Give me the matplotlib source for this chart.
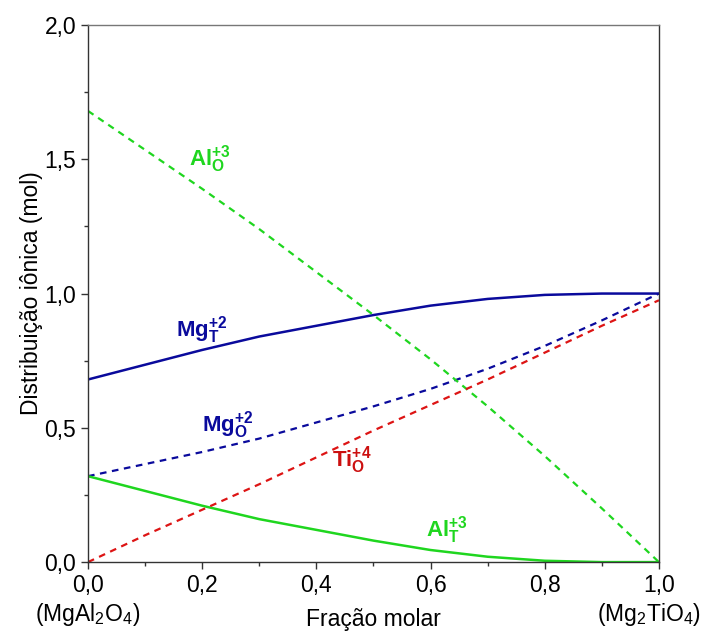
import matplotlib
matplotlib.use("Agg")
import matplotlib.pyplot as plt
from matplotlib.ticker import MultipleLocator, FuncFormatter

plt.rcParams["font.family"] = ["Liberation Sans", "DejaVu Sans"]
plt.rcParams["mathtext.fontset"] = "custom"
plt.rcParams["mathtext.rm"] = "Liberation Sans"
plt.rcParams["mathtext.it"] = "Liberation Sans:italic"
plt.rcParams["mathtext.bf"] = "Liberation Sans:bold"

# Fração molar de Mg2TiO4
x = [0.0, 0.1, 0.2, 0.3, 0.4, 0.5, 0.6, 0.7, 0.8, 0.9, 1.0]

# Distribuição dos cátions (mol) nos sítios T e O
mg_t = [0.68, 0.735, 0.79, 0.84, 0.88, 0.92, 0.955, 0.98, 0.995, 1.0, 1.0]
mg_o = [0.32, 0.365, 0.41, 0.46, 0.52, 0.58, 0.645, 0.72, 0.805, 0.90, 1.0]
al_t = [0.32, 0.265, 0.21, 0.16, 0.12, 0.08, 0.045, 0.02, 0.005, 0.0, 0.0]
al_o = [1.68, 1.535, 1.39, 1.24, 1.08, 0.92, 0.755, 0.58, 0.395, 0.20, 0.0]
ti_o = [0.0, 0.10, 0.195, 0.29, 0.39, 0.49, 0.585, 0.68, 0.78, 0.88, 0.975]

azul = "#0a0a9c"
verde = "#1fd61f"
vermelho = "#dd1414"
tracejado = (0, (3, 2.5))

fig = plt.figure(figsize=(7.04, 6.33), dpi=100)
ax = fig.add_axes([0.125, 0.112, 0.811, 0.8485])

ax.plot(x, mg_t, color=azul, lw=1.8)
ax.plot(x, mg_o, color=azul, lw=1.6, linestyle=tracejado)
ax.plot(x, al_t, color=verde, lw=1.8)
ax.plot(x, al_o, color=verde, lw=1.6, linestyle=tracejado)
ax.plot(x, ti_o, color=vermelho, lw=1.6, linestyle=tracejado)

# Rótulos das curvas
rot = dict(fontsize=16, ha="center", va="center")
ax.text(0.214, 1.50, r"$\mathbf{Al_O^{+3}}$", color=verde, **rot)
ax.text(0.20, 0.865, r"$\mathbf{Mg_T^{+2}}$", color=azul, **rot)
ax.text(0.245, 0.51, r"$\mathbf{Mg_O^{+2}}$", color=azul, **rot)
ax.text(0.462, 0.38, r"$\mathbf{Ti_O^{+4}}$", color="#cc1010", **rot)
ax.text(0.629, 0.12, r"$\mathbf{Al_T^{+3}}$", color=verde, **rot)

ax.set_xlim(0, 1)
ax.set_ylim(0, 2)
ax.xaxis.set_major_locator(MultipleLocator(0.2))
ax.xaxis.set_minor_locator(MultipleLocator(0.1))
ax.yaxis.set_major_locator(MultipleLocator(0.5))
ax.yaxis.set_minor_locator(MultipleLocator(0.25))
virgula = FuncFormatter(lambda v, p: f"{v:.1f}".replace(".", ","))
ax.xaxis.set_major_formatter(virgula)
ax.yaxis.set_major_formatter(virgula)
ax.tick_params(which="major", direction="out", length=5, width=1,
               labelsize=16.5, color="#333333")
ax.tick_params(which="minor", direction="out", length=3, width=1,
               color="#333333")
for lado in ax.spines.values():
    lado.set_color("#333333")
    lado.set_linewidth(1)
ax.spines["top"].set_color("#777777")

ax.set_xlabel("Fração molar", fontsize=16.5, labelpad=8)
ax.set_ylabel("Distribuição iônica (mol)", fontsize=16.5, labelpad=1)

# Membros extremos da solução sólida
ax.text(0.0, -0.11, r"(MgAl$_2$O$_4$)", fontsize=16.5, ha="center",
        va="baseline", transform=ax.get_xaxis_transform())
ax.text(0.982, -0.11, r"(Mg$_2$TiO$_4$)", fontsize=16.5, ha="center",
        va="baseline", transform=ax.get_xaxis_transform())

fig.savefig("out.png", dpi=100)
